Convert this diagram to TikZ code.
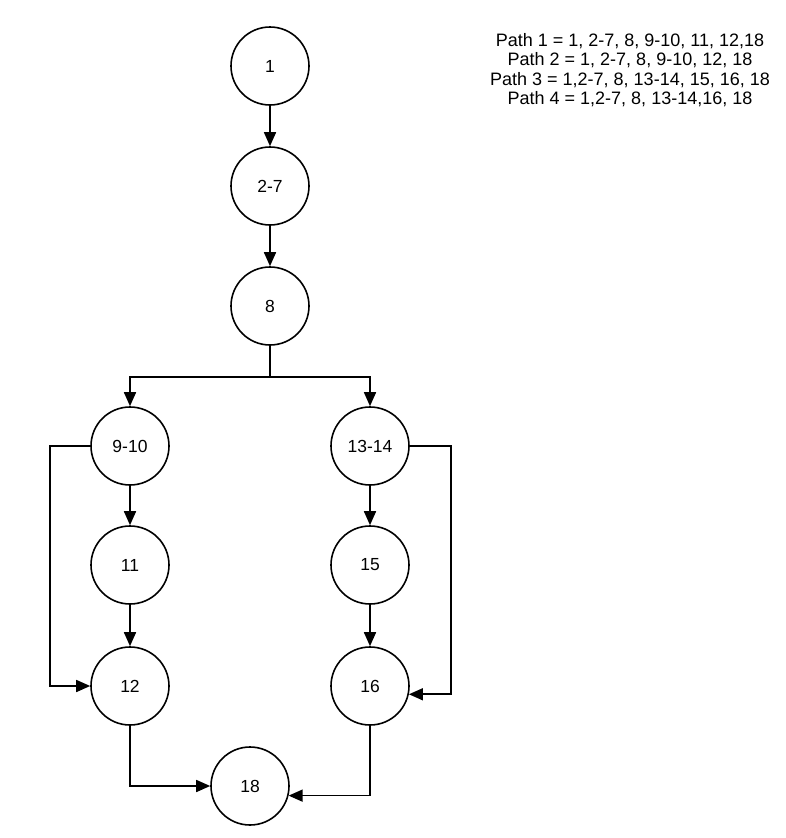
\documentclass[tikz,border=0pt]{standalone}
\usepackage{fontspec}
\setmainfont{Liberation Sans}
\usetikzlibrary{arrows.meta}
\begin{document}
\begin{tikzpicture}[x=1pt,y=-1pt,
  vtx/.style={circle,draw,line width=1.6pt,minimum size=78pt,inner sep=0pt,font=\fontsize{17.5}{20}\selectfont},
  arr/.style={line width=1.6pt,-{Triangle[length=14pt,width=12pt]}},
  ln/.style={line width=1.6pt}]
\useasboundingbox (0,0) rectangle (785,838);
\node[vtx] (n1) at (270,66) {1};
\node[vtx] (n27) at (270,186) {2-7};
\node[vtx] (n8) at (270,306) {8};
\node[vtx] (n910) at (130,446) {9-10};
\node[vtx] (n1314) at (370,446) {13-14};
\node[vtx] (n11) at (130,565) {11};
\node[vtx] (n15) at (370,565) {15};
\node[vtx] (n12) at (130,686) {12};
\node[vtx] (n16) at (370,686) {16};
\node[vtx] (n18) at (250,786) {18};
\coordinate (split) at (270,377);
\coordinate (lc) at (50,446);
\coordinate (rc) at (451,446);
\draw[arr] (n1) -- (n27);
\draw[arr] (n27) -- (n8);
\draw[ln] (n8) -- (split);
\draw[arr] (split) -| (n910);
\draw[arr] (split) -| (n1314);
\draw[arr] (n910) -- (n11);
\draw[arr] (n11) -- (n12);
\draw[arr] (n1314) -- (n15);
\draw[arr] (n15) -- (n16);
\draw[arr] (n910.west) -- (lc) |- (n12.west);
\draw[arr] (n1314.east) -- (rc) |- (n16.-12);
\draw[arr] (n12.south) |- (n18.west);
\draw[arr] (n16.south) |- (n18.-14);
\node[align=center,font=\fontsize{18}{19.5}\selectfont] (paths) at (630,70) {Path 1 = 1, 2-7, 8, 9-10, 11, 12,18\\Path 2 = 1, 2-7, 8, 9-10, 12, 18\\Path 3 = 1,2-7, 8, 13-14, 15, 16, 18\\Path 4 = 1,2-7, 8, 13-14,16, 18};
\end{tikzpicture}
\end{document}
